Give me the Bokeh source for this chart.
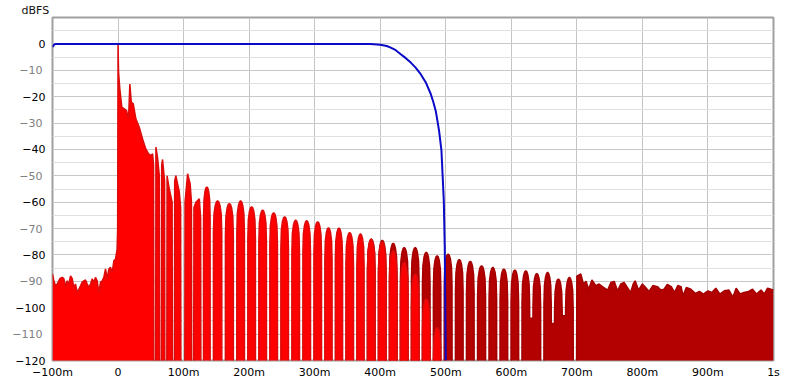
from bokeh.plotting import figure
from bokeh.models import FixedTicker, Range1d, LinearAxis
from bokeh.embed import file_html
from bokeh.resources import INLINE

# ---------------- data (time in ms, level in dBFS) ----------------
X_TICKS = [-100, 0, 100, 200, 300, 400, 500, 600, 700, 800, 900, 1000]
X_TICK_LABELS = ["−100m", "0", "100m", "200m", "300m", "400m", "500m",
                 "600m", "700m", "800m", "900m", "1s"]
Y_TICKS_BLACK = [0, -20, -40, -60, -80, -100, -120]
Y_TICKS_GRAY = [-10, -30, -50, -70, -90, -110]

# windowed impulse response (bright red): pre-ringing noise + impulse + early decay
bright_head_t = [-100, -98, -95.4, -92.8, -88.9, -85.2, -82.7, -80.2, -77.6, -75.1,
                 -72.5, -69.9, -67.5, -64.9, -62.3, -59.8, -57.3, -54.7, -52.2, -49.6,
                 -47.0, -44.6, -42.0, -39.4, -36.9, -34.4, -31.8, -29.3, -26.7, -24.1,
                 -21.7, -19.1, -16.5, -14.0, -11.5, -8.9, -6.4, -3.8, -1.5, -0.6,
                 0.0, 0.8, 2.7, 5.8, 9.5, 13.0, 16.0, 18.0, 20.2, 23.2,
                 27.2, 32.4, 37.4, 42.4, 46.6, 50.1, 52.7, 54.2, 54.6, 57.4,
                 57.8, 60.3, 63.0, 63.4, 66.2, 66.6, 67.9, 71.0, 71.4, 74.4,
                 74.8, 78.2, 82.5, 82.9, 86.0, 86.4, 88.2, 93.4, 95.5, 95.9,
                 101.8, 102.2, 106.1, 110.0, 112.0, 112.4, 115.4, 115.8, 118.8, 124.0,
                 126.0, 126.4]
bright_head_db = [-87.2, -89.8, -91.7, -91.0, -89.0, -88.5, -89.0, -91.7, -89.8, -91.0,
                  -87.9, -89.0, -92.3, -91.0, -94.2, -93.0, -91.7, -90.3, -89.8, -89.5,
                  -91.0, -92.3, -91.0, -89.0, -90.3, -88.5, -89.8, -94.2, -90.3, -89.8,
                  -88.5, -85.3, -89.0, -85.3, -84.7, -86.6, -82.2, -81.5, -78.0, -70.0,
                  0.0, -10.7, -17.0, -24.0, -24.6, -25.3, -28.4, -15.2, -22.0, -22.7,
                  -28.4, -31.6, -36.0, -39.8, -41.7, -42.3, -41.7, -46.0, -125, -125,
                  -39.1, -43.2, -50.0, -125, -125, -46.0, -43.8, -52.0, -125, -125,
                  -50.0, -55.0, -60.0, -125, -125, -52.0, -49.9, -56.0, -62.0, -125,
                  -125, -60.0, -49.2, -53.0, -60.0, -125, -125, -62.0, -60.0, -58.7,
                  -66.0, -125]

# comb-like decay lobes of the windowed response: null times and lobe peaks
bright_null_t = [128.2, 142.7, 161.1, 178.6, 195.4, 212.2, 229.0, 245.8, 262.6, 279.4,
                 296.2, 313.0, 329.0, 345.0, 361.8, 377.9, 394.7, 411.5, 428.2, 445.0,
                 461.8, 478.6, 495.0]
bright_peak_db = [-54.2, -59.5, -60.5, -59.5, -61.7, -63.0, -64.0, -65.5, -66.8, -67.0,
                  -67.4, -69.7, -69.8, -71.5, -72.0, -74.0, -75.0, -78.4, -82.8, -87.2,
                  -96.7, -107.5]

# unwindowed response (dark red), visible where it exceeds the windowed one
dark_null_t = [377.9, 394.7, 411.5, 428.2, 445.0, 461.8, 478.6, 495.0, 512.2, 529.0,
               545.8, 563.4, 580.2, 597.0, 613.7, 630.5, 647.3, 663.4, 680.2, 697.0]
dark_null_db = [-125, -125, -125, -125, -125, -125, -125, -125, -125, -125,
                -125, -125, -125, -125, -125, -104, -125, -106, -103, -125]
dark_peak_db = [-74.0, -74.4, -75.6, -77.2, -77.2, -79.0, -80.3, -79.7, -81.7, -82.4,
                -84.1, -84.7, -85.3, -85.7, -86.0, -87.0, -86.6, -89.1, -88.5]
dark_tail_t = [699.5, 700, 706, 710, 714, 718, 723, 729, 734, 739, 747, 752, 757, 762,
               767, 772, 777, 782, 786, 789, 794, 800, 805, 810, 816, 823, 828, 833,
               838, 844, 849, 854, 859, 862, 867, 874, 881, 887, 893, 900, 906, 912,
               918, 925, 932, 938, 943, 949, 955, 962, 968, 974, 981, 986, 991, 996,
               1000]
dark_tail_db = [-125, -88.0, -87.2, -91.0, -90.0, -93.0, -89.5, -91.6, -91.0, -92.0,
                -93.3, -90.4, -90.0, -93.6, -91.0, -90.4, -92.3, -94.2, -91.0, -89.8,
                -93.3, -91.0, -92.3, -93.8, -91.6, -92.0, -93.3, -93.0, -91.2, -92.0,
                -94.2, -91.6, -92.0, -95.5, -92.3, -93.0, -94.6, -93.8, -94.8, -93.6,
                -94.2, -92.6, -94.8, -93.6, -93.3, -96.0, -92.6, -94.8, -94.2, -93.8,
                -93.0, -94.8, -93.3, -94.8, -92.6, -93.0, -93.3]

# analysis window (blue)
window_t = [-100, -97.5, -95, 385, 400, 410, 416, 423.7, 431.3, 439, 446.6, 454,
            461.8, 469.5, 477.1, 481.2, 484.7, 487.3, 489.8, 493.4, 497, 498.5, 500]
window_db = [-1.2, -0.3, 0.0, 0.0, -0.3, -0.8, -1.4, -2.4, -3.9, -5.4, -7.1, -9.0,
             -11.5, -14.6, -19.0, -22.2, -25.4, -29.2, -33.0, -40.5, -59.5, -78.0, -120]

# ---------------- drawing helpers (lobe outline style) ----------------
LOBE_FRAC = [0.15, 0.155, 0.2, 0.3, 0.4, 0.5, 0.6, 0.7, 0.8, 0.845, 0.85]
LOBE_DROP = [None, 12, 5, 1.8, 0.4, 0, 0.4, 1.8, 5, 12, None]


def lobes(null_t, null_db, peak_db):
    xs, ys = [], []
    for i, pk in enumerate(peak_db):
        a, b = null_t[i], null_t[i + 1]
        w = b - a
        for f, d in zip(LOBE_FRAC, LOBE_DROP):
            xs.append(a + f * w)
            if d is None:
                ys.append(null_db[i] if f < 0.5 else null_db[i + 1])
            else:
                ys.append(pk - d)
    return xs, ys


bx, by = lobes(bright_null_t, [-125] * len(bright_null_t), bright_peak_db)
bright_x = bright_head_t + bx
bright_y = bright_head_db + by

dx, dy = lobes(dark_null_t, dark_null_db, dark_peak_db)
dark_x = dx + dark_tail_t
dark_y = dy + dark_tail_db

# ---------------- figure ----------------
FONT = "DejaVu Sans"
p = figure(width=800, height=383, x_range=Range1d(-100, 1000), y_range=Range1d(-120, 10),
           output_backend="svg", toolbar_location=None,
           min_border_left=52, min_border_right=27, min_border_top=16, min_border_bottom=23,
           title="dBFS")
p.background_fill_color = "white"
p.border_fill_color = "white"
p.outline_line_color = "#a0a0a0"
p.outline_line_width = 2

p.title.align = "left"
p.title.offset = -31
p.title.text_font = FONT
p.title.text_font_size = "11px"
p.title.text_font_style = "normal"
p.title.text_color = "#111111"
p.title.standoff = 2

# grids
p.xgrid.ticker = FixedTicker(ticks=X_TICKS)
p.xgrid.grid_line_color = "#c4c4c4"
p.ygrid.ticker = FixedTicker(ticks=list(range(-120, 11, 10)),
                             minor_ticks=list(range(-115, 10, 10)))
p.ygrid.grid_line_color = "#c8c8c8"
p.ygrid.minor_grid_line_color = "#e0e0e0"

# axes
p.xaxis.ticker = FixedTicker(ticks=X_TICKS)
p.xaxis.major_label_overrides = {t: s for t, s in zip(X_TICKS, X_TICK_LABELS)}
p.yaxis.ticker = FixedTicker(ticks=Y_TICKS_BLACK)
p.yaxis.major_label_overrides = {v: ("−%d" % -v if v < 0 else "0") for v in Y_TICKS_BLACK}

gray_axis = LinearAxis(ticker=FixedTicker(ticks=Y_TICKS_GRAY),
                       major_label_overrides={v: "−%d" % -v for v in Y_TICKS_GRAY})
p.add_layout(gray_axis, "left")

for ax in (p.xaxis[0], p.yaxis[0], gray_axis):
    ax.axis_line_color = None
    ax.major_tick_line_color = None
    ax.minor_tick_line_color = None
    ax.major_tick_out = 0
    ax.major_tick_in = 0
    ax.minor_tick_out = 0
    ax.minor_tick_in = 0
    ax.major_label_text_font = FONT
    ax.major_label_text_font_size = "11px"
    ax.major_label_text_color = "#000000"
p.yaxis[0].major_label_standoff = 7
p.xaxis[0].major_label_standoff = 5
gray_axis.major_label_text_color = "#808080"
gray_axis.major_label_standoff = -30

# traces
p.varea(x=dark_x, y1=-130, y2=dark_y, fill_color="#b30000")
p.line(dark_x, dark_y, line_color="#a40000", line_width=1.5)
p.varea(x=bright_x, y1=-130, y2=bright_y, fill_color="#ff0000")
p.line(bright_x, bright_y, line_color="#dc0c0c", line_width=1.5)
p.line(window_t, window_db, line_color="#0a0ac8", line_width=2)

open("out.html", "w").write(file_html(p, INLINE))
